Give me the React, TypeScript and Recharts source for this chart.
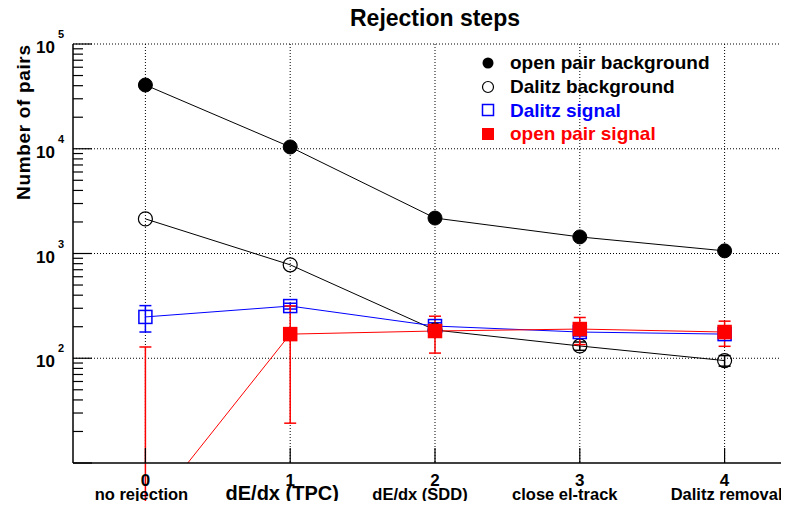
import { LineChart, Line, XAxis, YAxis, CartesianGrid, ErrorBar } from 'recharts';

const FONT = '"Liberation Sans", Arial, Helvetica, sans-serif';

// rejection steps on the x axis
const STEPS = [0, 1, 2, 3, 4];
const STEP_NAMES = ['no rejection', 'dE/dx (TPC)', 'dE/dx (SDD)', 'close el-track', 'Dalitz removal'];
// ROOT placed the step names by hand, not quite centred
const NAME_DX = [-4, -8, -15, -15, 2];
const NAME_SIZE = [16.5, 20, 16.5, 16.5, 16.5];

// log y axis: decades with minor ticks at 2..9
const Y_DECADES = [10, 100, 1000, 10000];
const Y_MULT = [1, 2, 3, 4, 5, 6, 7, 8, 9];
const Y_TICKS = [...Y_DECADES.flatMap((d) => Y_MULT.map((m) => m * d)), 100000];
const Y_LABELED = [100, 1000, 10000, 100000];

// series (errors hidden behind the marker are left out)
const openPairBg = [40600, 10400, 2180, 1440, 1060];
const openPairBgErr = [200, 100, 45, 38, 32];
const dalitzBg = [2140, 780, 186, 131, 95];
const dalitzBgErr = [undefined, undefined, undefined, 12, 11];
const dalitzSig = [248, 315, 203, 178, 170];
const dalitzSigErr = [70, 20, 15, 15, 15];
const openPairSig = [3.1, 170, 182, 190, 178];
const openPairSigErr: (number | number[])[] = [[3, 125], 146, 70, 55, 48];

const data = STEPS.map((s, i) => ({
  step: s,
  opBg: openPairBg[i],
  opBgErr: openPairBgErr[i],
  dzBg: dalitzBg[i],
  dzBgErr: dalitzBgErr[i],
  dzSig: dalitzSig[i],
  dzSigErr: dalitzSigErr[i],
  opSig: openPairSig[i],
  opSigErr: openPairSigErr[i],
}));

const LEGEND = [
  { name: 'open pair background', color: '#000', marker: 'fcircle' },
  { name: 'Dalitz background', color: '#000', marker: 'ocircle' },
  { name: 'Dalitz signal', color: '#0000ff', marker: 'osquare' },
  { name: 'open pair signal', color: '#ff0000', marker: 'fsquare' },
];

function XTick(props: any) {
  const { x, y, payload } = props;
  const i = STEPS.indexOf(payload.value);
  return (
    <g>
      <line x1={x} y1={y} x2={x} y2={y - 15} stroke="#000" strokeWidth={1.2} />
      <text x={x} y={y + 23} textAnchor="middle" fontSize={17} fontWeight="bold" fill="#000" fontFamily={FONT}>
        {payload.value}
      </text>
      <text
        x={x + NAME_DX[i]}
        y={y + 37}
        textAnchor="middle"
        fontSize={NAME_SIZE[i]}
        fontWeight="bold"
        fill="#000"
        fontFamily={FONT}
      >
        {STEP_NAMES[i]}
      </text>
    </g>
  );
}

function YTick(props: any) {
  const { x, y, payload } = props;
  const v = payload.value;
  const major = Y_DECADES.includes(v) || v === 100000;
  const labeled = Y_LABELED.includes(v);
  return (
    <g>
      <line x1={x} y1={y} x2={x + (major ? 19 : 10)} y2={y} stroke="#000" strokeWidth={1.2} />
      {labeled && (
        <text x={x - 18} y={y + 9} textAnchor="end" fontSize={17} fontWeight="bold" fill="#000" fontFamily={FONT}>
          10
        </text>
      )}
      {labeled && (
        <text x={x - 15} y={y - 6} fontSize={11} fontWeight="bold" fill="#000" fontFamily={FONT}>
          {Math.round(Math.log10(v))}
        </text>
      )}
    </g>
  );
}

const squareDot = (fill: string, stroke: string) => (p: any) => (
  <rect
    key={`sq-${p.index}`}
    x={p.cx - 6.5}
    y={p.cy - 6.5}
    width={13}
    height={13}
    fill={fill}
    stroke={stroke}
    strokeWidth={1.5}
  />
);

function LegendMarker({ kind, color }: { kind: string; color: string }) {
  return (
    <svg width={22} height={22} style={{ display: 'block' }}>
      {kind === 'fcircle' && <circle cx={11} cy={11} r={5.5} fill={color} />}
      {kind === 'ocircle' && <circle cx={11} cy={11} r={5.5} fill="none" stroke={color} strokeWidth={1.2} />}
      {kind === 'osquare' && <rect x={5.5} y={5.5} width={11} height={11} fill="none" stroke={color} strokeWidth={1.5} />}
      {kind === 'fsquare' && <rect x={5} y={5} width={12} height={12} fill={color} />}
    </svg>
  );
}

export default function App() {
  return (
    <div
      style={{
        position: 'relative',
        margin: -8,
        width: 789,
        height: 509,
        overflow: 'hidden',
        background: '#fff',
        fontFamily: FONT,
      }}
    >
      <div
        style={{
          position: 'absolute',
          left: 0,
          width: 870,
          top: 7,
          textAlign: 'center',
          fontSize: 23,
          lineHeight: '23px',
          fontWeight: 'bold',
          color: '#000',
        }}
      >
        Rejection steps
      </div>
      <LineChart width={810} height={509} data={data} margin={{ top: 44, right: 13, left: 0, bottom: 0 }}>
        <CartesianGrid
          stroke="#000"
          strokeDasharray="1 2"
          horizontalValues={Y_LABELED}
          verticalValues={STEPS}
        />
        <XAxis
          dataKey="step"
          type="number"
          domain={[-0.5, 4.5]}
          ticks={STEPS}
          interval={0}
          height={46}
          tickSize={0}
          tickMargin={0}
          tickLine={false}
          axisLine={{ stroke: '#000', strokeWidth: 1.5 }}
          tick={<XTick />}
          allowDataOverflow
        />
        <YAxis
          scale="log"
          domain={[10, 100000]}
          ticks={Y_TICKS}
          interval={0}
          width={73}
          tickSize={0}
          tickMargin={0}
          tickLine={false}
          axisLine={{ stroke: '#000', strokeWidth: 1.5 }}
          tick={<YTick />}
          allowDataOverflow
          label={{
            content: () => (
              <text
                transform="translate(30, 45) rotate(-90)"
                textAnchor="end"
                fontSize={19}
                fontWeight="bold"
                fill="#000"
                fontFamily={FONT}
                textLength={155}
                lengthAdjust="spacing"
              >
                Number of pairs
              </text>
            ),
          }}
        />
        <Line
          dataKey="opBg"
          stroke="#000"
          strokeWidth={1}
          dot={{ r: 7, fill: '#000', stroke: '#000', strokeWidth: 1 }}
          isAnimationActive={false}
        >
          <ErrorBar dataKey="opBgErr" width={6} stroke="#000" direction="y" />
        </Line>
        <Line
          dataKey="dzBg"
          stroke="#000"
          strokeWidth={1}
          dot={{ r: 7, fill: 'none', stroke: '#000', strokeWidth: 1.2 }}
          isAnimationActive={false}
        >
          <ErrorBar dataKey="dzBgErr" width={6} stroke="#000" direction="y" />
        </Line>
        <Line
          dataKey="dzSig"
          stroke="#0000ff"
          strokeWidth={1}
          dot={squareDot('none', '#0000ff')}
          isAnimationActive={false}
        >
          <ErrorBar dataKey="dzSigErr" width={6} stroke="#0000ff" direction="y" />
        </Line>
        <Line
          dataKey="opSig"
          stroke="#ff0000"
          strokeWidth={1}
          dot={squareDot('#ff0000', '#ff0000')}
          isAnimationActive={false}
        >
          <ErrorBar dataKey="opSigErr" width={6} stroke="#ff0000" direction="y" />
        </Line>
      </LineChart>
      <div style={{ position: 'absolute', left: 477, top: 51 }}>
        {LEGEND.map((l) => (
          <div key={l.name} style={{ display: 'flex', alignItems: 'center', height: 23.7 }}>
            <LegendMarker kind={l.marker} color={l.color} />
            <span
              style={{
                marginLeft: 11,
                fontSize: 19,
                fontWeight: 'bold',
                color: l.color,
                whiteSpace: 'nowrap',
                lineHeight: '19px',
              }}
            >
              {l.name}
            </span>
          </div>
        ))}
      </div>
    </div>
  );
}
